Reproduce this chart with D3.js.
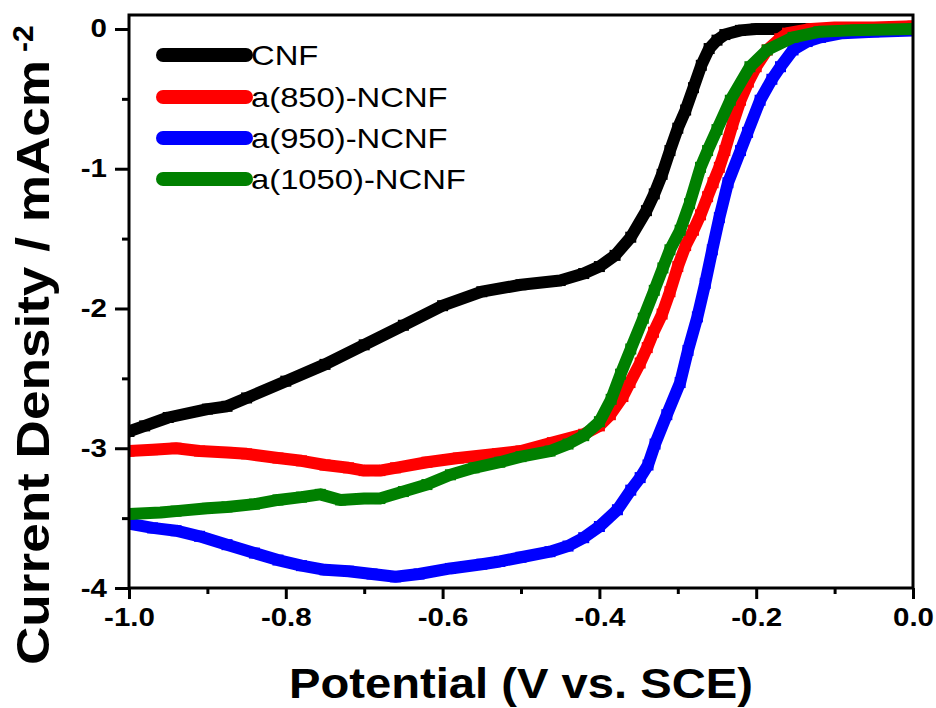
<!DOCTYPE html>
<html>
<head>
<meta charset="utf-8">
<script src="https://cdn.jsdelivr.net/npm/d3@7"></script>
<style>
html,body{margin:0;padding:0;background:#fff;}
svg{display:block;}
text{font-family:Arial,"Liberation Sans",sans-serif;}
</style>
</head>
<body>
<svg id="chart" width="936" height="708"></svg>
<script>
// ---- data (potential V vs. SCE, current density mA cm^-2) ----
const seriesNames = ["CNF", "a(850)-NCNF", "a(950)-NCNF", "a(1050)-NCNF"];
const seriesColors = ["#000000", "#ff0000", "#0000ff", "#008000"];

const cnfV = [-1.00,-0.98,-0.95,-0.90,-0.875,-0.85,-0.80,-0.75,-0.70,-0.65,-0.60,-0.55,-0.50,-0.45,-0.42,-0.40,-0.38,-0.36,-0.34,-0.33,-0.32,-0.31,-0.30,-0.29,-0.28,-0.27,-0.26,-0.25,-0.24,-0.22,-0.20,-0.15,-0.10,-0.05,0.00];
const cnfJ = [-2.88,-2.84,-2.78,-2.72,-2.70,-2.64,-2.52,-2.40,-2.26,-2.12,-1.98,-1.88,-1.83,-1.80,-1.75,-1.70,-1.62,-1.49,-1.30,-1.18,-1.04,-0.87,-0.71,-0.58,-0.42,-0.26,-0.14,-0.08,-0.04,-0.01,0.00,0.00,0.00,0.00,0.00];

const n850V = [-1.00,-0.97,-0.94,-0.91,-0.875,-0.85,-0.81,-0.78,-0.75,-0.72,-0.70,-0.68,-0.66,-0.62,-0.58,-0.53,-0.50,-0.46,-0.42,-0.40,-0.386,-0.370,-0.361,-0.348,-0.339,-0.331,-0.320,-0.310,-0.300,-0.290,-0.280,-0.271,-0.262,-0.255,-0.247,-0.240,-0.230,-0.220,-0.210,-0.200,-0.186,-0.170,-0.160,-0.13,-0.10,-0.05,0.00];
const n850J = [-3.02,-3.01,-3.00,-3.02,-3.03,-3.04,-3.07,-3.09,-3.12,-3.14,-3.16,-3.16,-3.14,-3.10,-3.07,-3.04,-3.02,-2.96,-2.90,-2.84,-2.76,-2.63,-2.53,-2.39,-2.28,-2.17,-2.04,-1.88,-1.70,-1.55,-1.44,-1.33,-1.20,-1.10,-0.99,-0.87,-0.68,-0.51,-0.38,-0.27,-0.15,-0.07,-0.03,0.00,0.01,0.01,0.02];

const n950V = [-1.00,-0.97,-0.94,-0.91,-0.875,-0.84,-0.81,-0.78,-0.75,-0.72,-0.69,-0.66,-0.63,-0.59,-0.55,-0.527,-0.50,-0.463,-0.44,-0.42,-0.40,-0.377,-0.36,-0.348,-0.338,-0.329,-0.314,-0.297,-0.287,-0.275,-0.265,-0.256,-0.247,-0.236,-0.220,-0.211,-0.195,-0.180,-0.169,-0.153,-0.135,-0.118,-0.09,-0.05,0.00];
const n950J = [-3.54,-3.57,-3.59,-3.63,-3.69,-3.75,-3.80,-3.84,-3.87,-3.88,-3.90,-3.92,-3.90,-3.86,-3.83,-3.81,-3.78,-3.74,-3.70,-3.64,-3.56,-3.44,-3.30,-3.21,-3.12,-2.97,-2.76,-2.53,-2.30,-2.06,-1.82,-1.58,-1.35,-1.10,-0.87,-0.74,-0.51,-0.36,-0.27,-0.15,-0.09,-0.06,-0.03,-0.02,-0.01];

const n1050V = [-1.00,-0.96,-0.94,-0.90,-0.875,-0.84,-0.81,-0.78,-0.756,-0.73,-0.70,-0.68,-0.65,-0.62,-0.59,-0.56,-0.527,-0.50,-0.463,-0.44,-0.42,-0.40,-0.385,-0.373,-0.36,-0.344,-0.33,-0.319,-0.31,-0.297,-0.285,-0.271,-0.262,-0.250,-0.233,-0.208,-0.186,-0.153,-0.12,-0.08,0.00];
const n1050J = [-3.47,-3.46,-3.45,-3.43,-3.42,-3.40,-3.37,-3.35,-3.33,-3.37,-3.36,-3.36,-3.31,-3.26,-3.19,-3.14,-3.10,-3.06,-3.02,-2.97,-2.91,-2.81,-2.65,-2.47,-2.29,-2.07,-1.87,-1.71,-1.58,-1.44,-1.25,-0.99,-0.87,-0.72,-0.51,-0.27,-0.15,-0.06,-0.02,-0.01,0.00];

const xTicks = [-1.0,-0.8,-0.6,-0.4,-0.2,0.0];
const xMinorTicks = [-0.9,-0.7,-0.5,-0.3,-0.1];
const yTicks = [0,-1,-2,-3,-4];
const yMinorTicks = [-0.5,-1.5,-2.5,-3.5];
const xTitle = "Potential (V vs. SCE)";
const yTitle = "Current Density / mAcm";
const yTitleSup = "-2";

// ---- layout ----
const svg = d3.select("#chart");
const L = 129, R = 913, T = 15, B = 588;
const x = d3.scaleLinear().domain([-1, 0]).range([L, R]);
const y = d3.scaleLinear().domain([-4, 0.1]).range([B, T]);

const series = [
  {v: cnfV, j: cnfJ},
  {v: n850V, j: n850J},
  {v: n950V, j: n950J},
  {v: n1050V, j: n1050J}
].map((s, i) => ({name: seriesNames[i], color: seriesColors[i], pts: s.v.map((v, k) => [v, s.j[k]])}));

// stretch text horizontally like the reference
function stretch(sel, f) {
  sel.each(function() {
    const w = this.getComputedTextLength();
    d3.select(this).attr("textLength", w * f).attr("lengthAdjust", "spacingAndGlyphs");
  });
}
const hyphen = f => d => f(d).replace("\u2212", "-");

// ---- curves ----
const clipId = "plotclip";
svg.append("clipPath").attr("id", clipId).append("rect")
  .attr("x", L).attr("y", T).attr("width", R - L).attr("height", B - T);
const plot = svg.append("g").attr("clip-path", `url(#${clipId})`);
const line = d3.line().x(d => x(d[0])).y(d => y(d[1]));
const ms = 11;
series.forEach(s => {
  plot.append("path").datum(s.pts)
    .attr("d", line).attr("fill", "none")
    .attr("stroke", s.color).attr("stroke-width", 12)
    .attr("stroke-linejoin", "round").attr("stroke-linecap", "square");
  plot.append("g").selectAll("rect").data(s.pts).join("rect")
    .attr("x", d => x(d[0]) - ms / 2).attr("y", d => y(d[1]) - ms / 2)
    .attr("width", ms).attr("height", ms).attr("fill", s.color);
});

// ---- axes ----
const xAxis = d3.axisBottom(x).tickValues(xTicks).tickFormat(hyphen(d3.format(".1f"))).tickSize(11).tickPadding(9);
const gx = svg.append("g").attr("transform", `translate(0,${B})`).call(xAxis);
const gxm = svg.append("g").attr("transform", `translate(0,${B})`)
  .call(d3.axisBottom(x).tickValues(xMinorTicks).tickSize(6).tickFormat(""));
const yAxis = d3.axisLeft(y).tickValues(yTicks).tickFormat(hyphen(d3.format("d"))).tickSize(14).tickPadding(8);
const gy = svg.append("g").attr("transform", `translate(${L},0)`).call(yAxis);
const gym = svg.append("g").attr("transform", `translate(${L},0)`)
  .call(d3.axisLeft(y).tickValues(yMinorTicks).tickSize(7).tickFormat(""));

[gx, gxm, gy, gym].forEach(g => {
  g.select(".domain").remove();
  g.selectAll(".tick line").attr("stroke", "#000").attr("stroke-width", 3);
});
gx.selectAll(".tick text").attr("font-size", 25).attr("font-weight", "bold").attr("fill", "#000")
  .attr("font-family", "Arial, 'Liberation Sans', sans-serif").call(stretch, 1.18);
gy.selectAll(".tick text").attr("font-size", 25).attr("font-weight", "bold").attr("fill", "#000")
  .attr("font-family", "Arial, 'Liberation Sans', sans-serif").call(stretch, 1.18);

// frame
svg.append("rect").attr("x", L).attr("y", T).attr("width", R - L).attr("height", B - T)
  .attr("fill", "none").attr("stroke", "#000").attr("stroke-width", 3);

// ---- titles ----
svg.append("text").attr("x", (L + R) / 2).attr("y", 698).attr("text-anchor", "middle")
  .attr("font-size", 43).attr("font-weight", "bold").attr("fill", "#000")
  .text(xTitle).call(sel => sel.attr("textLength", 464).attr("lengthAdjust", "spacingAndGlyphs"));

const yt = svg.append("text").attr("transform", "translate(49,665) rotate(-90)")
  .attr("font-size", 47).attr("font-weight", "bold").attr("fill", "#000");
yt.append("tspan").text(yTitle).attr("textLength", 605).attr("lengthAdjust", "spacingAndGlyphs");
svg.append("text").attr("transform", "translate(33,52) rotate(-90)")
  .attr("font-size", 30).attr("font-weight", "bold").attr("fill", "#000")
  .text(yTitleSup);

// ---- legend ----
const legY = [55, 97, 138, 179];
const leg = svg.append("g");
series.forEach((s, i) => {
  leg.append("line").attr("x1", 163).attr("x2", 246).attr("y1", legY[i]).attr("y2", legY[i])
    .attr("stroke", s.color).attr("stroke-width", 14).attr("stroke-linecap", "round");
  leg.append("text").attr("x", 251).attr("y", legY[i] + 10)
    .attr("font-size", 28).attr("fill", "#000").text(s.name).call(stretch, 1.17);
});
</script>
</body>
</html>
